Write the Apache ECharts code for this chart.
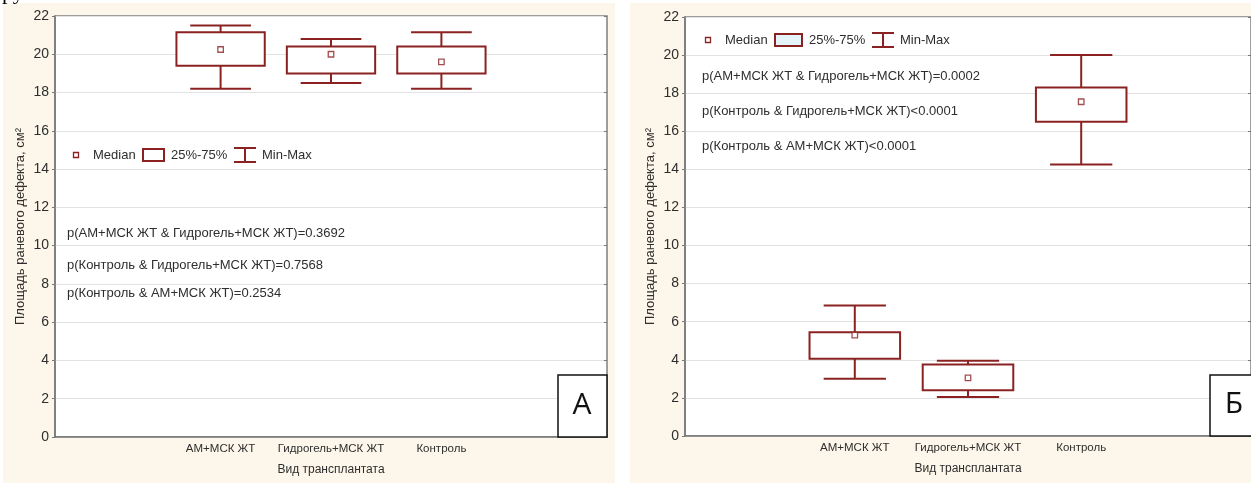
<!DOCTYPE html>
<html><head><meta charset="utf-8">
<script src="https://cdn.jsdelivr.net/npm/echarts@6/dist/echarts.min.js"></script>
<style>html,body{margin:0;padding:0;background:#fff;}#c{width:1251px;height:483px;}</style>
</head><body><div id="c"></div>
<script>
// ---------- DATA ----------
const categories = ['', 'АМ+МСК ЖТ', 'Гидрогель+МСК ЖТ', 'Контроль', ''];
const groupIndex = [1, 2, 3];
const yMin = 0, yMax = 22, yStep = 2;

// Panel A
const aMin    = [18.2, 18.5, 18.2];
const aQ1     = [19.4, 19.0, 19.0];
const aMedian = [20.25, 20.0, 19.6];
const aQ3     = [21.15, 20.4, 20.4];
const aMax    = [21.5, 20.8, 21.15];

// Panel B
const bMin    = [3.0, 2.05, 14.25];
const bQ1     = [4.05, 2.4, 16.5];
const bMedian = [5.3, 3.05, 17.55];
const bQ3     = [5.45, 3.75, 18.3];
const bMax    = [6.85, 3.95, 20.0];

const legendLabels = ['Median', '25%-75%', 'Min-Max'];
const pTextsA = [
  'p(АМ+МСК ЖТ & Гидрогель+МСК ЖТ)=0.3692',
  'p(Контроль & Гидрогель+МСК ЖТ)=0.7568',
  'p(Контроль & АМ+МСК ЖТ)=0.2534'
];
const pTextsB = [
  'p(АМ+МСК ЖТ & Гидрогель+МСК ЖТ)=0.0002',
  'p(Контроль & Гидрогель+МСК ЖТ)<0.0001',
  'p(Контроль & АМ+МСК ЖТ)<0.0001'
];
const yTitle = 'Площадь раневого дефекта, см²';
const xTitle = 'Вид трансплантата';
const panelLetters = ['А', 'Б'];

// ---------- STYLE ----------
const RED = '#8b2222';
const CREAM = '#fcf7ea';
const TXT = '#2e2e2e';
const FONT = '"Liberation Sans", Arial, sans-serif';

const chart = echarts.init(document.getElementById('c'), null, {renderer: 'canvas'});

function whiskerItem(params, api) {
  const x = api.value(0);
  const pLo = api.coord([x, api.value(1)]);
  const pHi = api.coord([x, api.value(2)]);
  const cap = api.size([1, 0])[0] * 0.55 / 2;
  const style = {stroke: RED, lineWidth: 2, fill: null};
  return {type: 'group', children: [
    {type: 'line', shape: {x1: pLo[0], y1: pLo[1], x2: pHi[0], y2: pHi[1]}, style},
    {type: 'line', shape: {x1: pLo[0] - cap, y1: pLo[1], x2: pLo[0] + cap, y2: pLo[1]}, style},
    {type: 'line', shape: {x1: pHi[0] - cap, y1: pHi[1], x2: pHi[0] + cap, y2: pHi[1]}, style}
  ]};
}
function boxItem(params, api) {
  const x = api.value(0);
  const p1 = api.coord([x, api.value(1)]);
  const p3 = api.coord([x, api.value(2)]);
  const w = api.size([1, 0])[0] * 0.8;
  return {type: 'rect', shape: {x: p1[0] - w / 2, y: p3[1], width: w, height: p1[1] - p3[1]},
    style: {fill: '#fff', stroke: RED, lineWidth: 2}};
}

function panelSeries(ax, mins, q1s, meds, q3s, maxs) {
  return [
    {name: legendLabels[2], type: 'custom', xAxisIndex: ax, yAxisIndex: ax, z: 2,
     renderItem: whiskerItem, encode: {x: 0, y: [1, 2]},
     data: groupIndex.map((g, i) => [g, mins[i], maxs[i]])},
    {name: legendLabels[1], type: 'custom', xAxisIndex: ax, yAxisIndex: ax, z: 3,
     renderItem: boxItem, encode: {x: 0, y: [1, 2]},
     data: groupIndex.map((g, i) => [g, q1s[i], q3s[i]])},
    {name: legendLabels[0], type: 'scatter', xAxisIndex: ax, yAxisIndex: ax, z: 4,
     symbol: 'rect', symbolSize: 5.5,
     itemStyle: {color: '#fff', borderColor: RED, borderWidth: 1.3},
     data: groupIndex.map((g, i) => [g, meds[i]])}
  ];
}

function xAxisMain(grid) {
  return {type: 'category', gridIndex: grid, data: categories, boundaryGap: true,
    axisLine: {lineStyle: {color: '#777', width: 1.5}},
    axisTick: {alignWithLabel: true, inside: true, length: 3, lineStyle: {color: '#777'}},
    axisLabel: {color: TXT, fontSize: 11.5, fontFamily: FONT, margin: 6, interval: 0},
    name: xTitle, nameLocation: 'middle', nameGap: 27,
    nameTextStyle: {color: TXT, fontSize: 12, fontFamily: FONT},
    splitLine: {show: false}};
}
function xAxisTop(grid) {
  return {type: 'category', gridIndex: grid, data: categories, position: 'top', boundaryGap: true,
    axisLine: {show: false},
    axisTick: {alignWithLabel: true, inside: true, length: 3, lineStyle: {color: '#777'}},
    axisLabel: {show: false}, splitLine: {show: false}};
}
function yAxisMain(grid) {
  return {type: 'value', gridIndex: grid, min: yMin, max: yMax, interval: yStep,
    axisLine: {show: true, lineStyle: {color: '#777', width: 1.5}},
    axisTick: {show: true, length: 3, lineStyle: {color: '#777'}},
    axisLabel: {color: TXT, fontSize: 14, fontFamily: FONT, margin: 6},
    splitLine: {show: true, lineStyle: {color: '#e2e2e2', width: 1.2}},
    name: yTitle, nameLocation: 'middle', nameRotate: 90, nameGap: 28,
    nameTextStyle: {color: TXT, fontSize: 13, fontFamily: FONT}};
}
function yAxisRight(grid) {
  return {type: 'value', gridIndex: grid, min: yMin, max: yMax, interval: yStep, position: 'right',
    axisLine: {show: false},
    axisTick: {show: true, inside: true, length: 3, lineStyle: {color: '#777'}},
    axisLabel: {show: false}, splitLine: {show: false}};
}

function textEl(t, x, y, size, extra) {
  return Object.assign({type: 'text', z: 50,
    style: {text: t, x: x, y: y, fill: TXT, font: size + 'px ' + FONT, verticalAlign: 'middle'}}, extra || {});
}

function legendGroup(x0, y, boxW, boxFill) {
  const lw = 2;
  const mStart = x0 + 17;
  const boxX = x0 + 67;
  const boxTextX = boxX + boxW + 7;
  const whX = boxTextX + 63;
  const whW = 22;
  const whTextX = whX + whW + 6;
  return [
    {type: 'rect', z: 50, shape: {x: x0 - 2.5, y: y - 2.5, width: 5, height: 5},
     style: {fill: '#fff', stroke: RED, lineWidth: 1.3}},
    textEl(legendLabels[0], mStart, y, 13),
    {type: 'rect', z: 50, shape: {x: boxX, y: y - 6, width: boxW, height: 12},
     style: {fill: boxFill, stroke: RED, lineWidth: lw}},
    textEl(legendLabels[1], boxTextX, y, 13),
    {type: 'polyline', z: 50, shape: {points: [[whX, y - 7], [whX + whW, y - 7]]}, style: {stroke: RED, lineWidth: lw, fill: null}},
    {type: 'polyline', z: 50, shape: {points: [[whX, y + 7], [whX + whW, y + 7]]}, style: {stroke: RED, lineWidth: lw, fill: null}},
    {type: 'polyline', z: 50, shape: {points: [[whX + whW / 2, y - 7], [whX + whW / 2, y + 7]]}, style: {stroke: RED, lineWidth: lw, fill: null}},
    textEl(legendLabels[2], whTextX, y, 13)
  ];
}

function letterBox(x, y, w, h, letter) {
  return [
    {type: 'rect', z: 60, shape: {x: x, y: y, width: w, height: h},
     style: {fill: '#fff', stroke: '#111', lineWidth: 1.5}},
    {type: 'text', z: 61, style: {text: letter, x: x + 24, y: y + h / 2 - 1, fill: '#111',
      font: '30px "Open Sans", "Liberation Sans", sans-serif', align: 'center', verticalAlign: 'middle'}}
  ];
}

const graphics = [
  {type: 'rect', z: -10, shape: {x: 3, y: 3, width: 612, height: 480}, style: {fill: CREAM}},
  {type: 'rect', z: -10, shape: {x: 630, y: 3, width: 621, height: 480}, style: {fill: CREAM}},
  {type: 'text', z: 5, style: {text: 'ру', x: 2, y: 4, fill: '#000',
    font: '22px "Liberation Serif", serif', verticalAlign: 'bottom'}}
]
  .concat(legendGroup(76, 155, 21, '#fff'))
  .concat(legendGroup(708, 40, 27, '#e4f4f8'))
  .concat(pTextsA.map((t, i) => textEl(t, 67, [233, 265, 293][i], 13)))
  .concat(pTextsB.map((t, i) => textEl(t, 702, [76, 111, 146][i], 13)))
  .concat(letterBox(558, 375, 49, 62, panelLetters[0]))
  .concat(letterBox(1210, 375, 60, 61, panelLetters[1]));

chart.setOption({
  animation: false,
  backgroundColor: 'transparent',
  grid: [
    {left: 55, top: 16, width: 552, height: 421, show: true, backgroundColor: '#fff',
     borderColor: '#808080', borderWidth: 1.5, containLabel: false},
    {left: 685, top: 17, width: 574, height: 419, show: true, backgroundColor: '#fff',
     borderColor: '#808080', borderWidth: 1.5, containLabel: false}
  ],
  xAxis: [xAxisMain(0), xAxisMain(1), xAxisTop(0), xAxisTop(1)],
  yAxis: [yAxisMain(0), yAxisMain(1), yAxisRight(0), yAxisRight(1)],
  series: panelSeries(0, aMin, aQ1, aMedian, aQ3, aMax)
    .concat(panelSeries(1, bMin, bQ1, bMedian, bQ3, bMax)),
  graphic: graphics
});
</script>
</body></html>
